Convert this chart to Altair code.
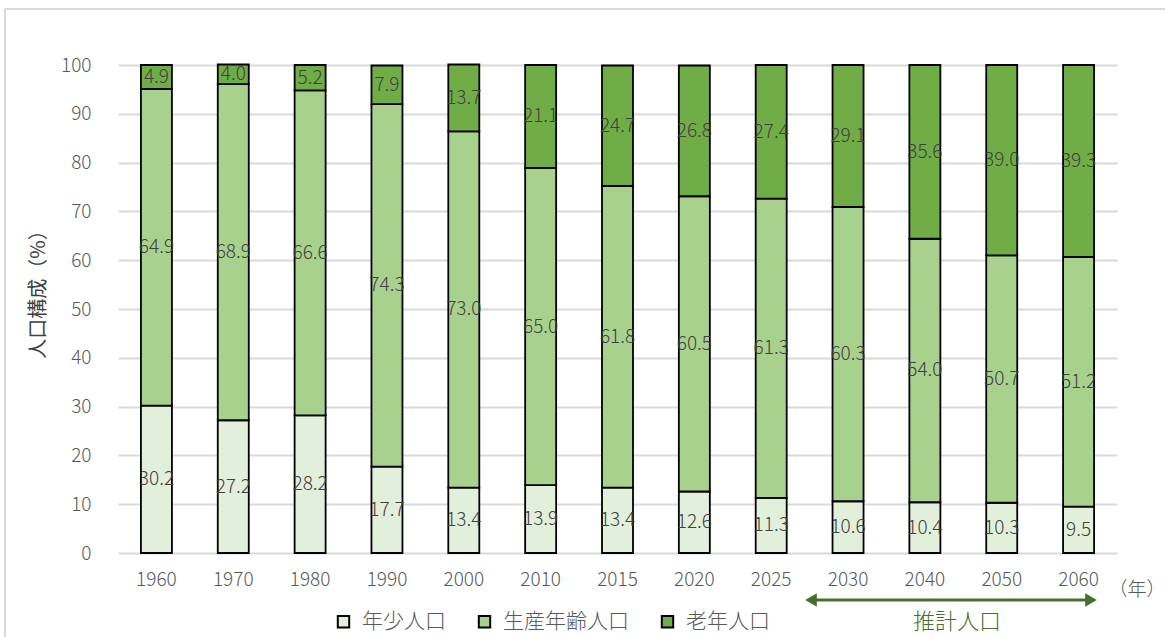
import altair as alt
import pandas as pd

# 年齢3区分別人口構成（%）
years = ["1960", "1970", "1980", "1990", "2000", "2010", "2015",
         "2020", "2025", "2030", "2040", "2050", "2060"]
youth = [30.2, 27.2, 28.2, 17.7, 13.4, 13.9, 13.4, 12.6, 11.3, 10.6, 10.4, 10.3, 9.5]
working = [64.9, 68.9, 66.6, 74.3, 73.0, 65.0, 61.8, 60.5, 61.3, 60.3, 54.0, 50.7, 51.2]
elderly = [4.9, 4.0, 5.2, 7.9, 13.7, 21.1, 24.7, 26.8, 27.4, 29.1, 35.6, 39.0, 39.3]

groups = ["年少人口", "生産年齢人口", "老年人口"]
colors = ["#e2efda", "#a9d18e", "#70ad47"]
y_ticks = list(range(0, 101, 10))

FONT = "Noto Sans CJK JP"
LIGHT = 300
AXIS_GRAY = "#595959"
ARROW_GREEN = "#456f2c"

rows = []
for i, yr in enumerate(years):
    for k, (g, vals) in enumerate(zip(groups, [youth, working, elderly])):
        rows.append({"year": yr, "group": g, "order": k, "value": vals[i]})
df = pd.DataFrame(rows)

W, H = 999, 488

x_enc = alt.X("year:N", sort=years,
              scale=alt.Scale(paddingInner=0, paddingOuter=0),
              axis=alt.Axis(title=None, labelAngle=0, labelPadding=17,
                            labelFontSize=19, labelColor=AXIS_GRAY, labelFont=FONT,
                            labelFontWeight=LIGHT,
                            ticks=False, domain=False, grid=False))

base = alt.Chart(df).transform_stack(
    stack="value", groupby=["year"], as_=["y0", "y1"],
    sort=[alt.SortField("order", order="ascending")]
).transform_calculate(mid="(datum.y0 + datum.y1) / 2")

bars = base.mark_bar(size=31, stroke="black", strokeWidth=1.8).encode(
    x=x_enc,
    y=alt.Y("y0:Q", scale=alt.Scale(domain=[0, 100], nice=False),
            axis=alt.Axis(values=y_ticks, title="人口構成（%）",
                          titleFont=FONT, titleFontSize=20, titleFontWeight="normal",
                          titleColor="#404040", titleAngle=-90,
                          titleX=-80, titleY=224, titleAlign="center",
                          titleBaseline="middle",
                          labelFontSize=19, labelColor=AXIS_GRAY, labelFont=FONT,
                          labelFontWeight=LIGHT,
                          labelPadding=27, ticks=False, domain=False,
                          gridColor="#d9d9d9", gridWidth=2)),
    y2="y1:Q",
    color=alt.Color("group:N", scale=alt.Scale(domain=groups, range=colors),
                    legend=alt.Legend(title=None, orient="none", direction="horizontal",
                                      legendX=215, legendY=546,
                                      symbolType="square", symbolSize=130,
                                      symbolStrokeColor="black", symbolStrokeWidth=2,
                                      labelFont=FONT, labelFontSize=21,
                                      labelFontWeight=LIGHT,
                                      labelColor=AXIS_GRAY, labelOffset=8,
                                      columnPadding=28)),
    order=alt.Order("order:Q"),
)

labels = base.mark_text(font=FONT, fontSize=19, fontWeight=LIGHT,
                        color="#404040").encode(
    x=alt.X("year:N", sort=years),
    y=alt.Y("mid:Q"),
    text=alt.Text("value:Q", format=".1f"),
)

one = alt.Data(values=[{}])

# 外枠
frame_top = alt.Chart(one).mark_rule(color="#d9d9d9", strokeWidth=2).encode(
    x=alt.value(-113), x2=alt.value(1060), y=alt.value(-56))
frame_left = alt.Chart(one).mark_rule(color="#d9d9d9", strokeWidth=2).encode(
    x=alt.value(-113), y=alt.value(-56), y2=alt.value(600))

# 年の単位
unit = alt.Chart(one).mark_text(font=FONT, fontSize=19, fontWeight=LIGHT,
                                color=AXIS_GRAY).encode(
    x=alt.value(1019), y=alt.value(525), text=alt.value("（年）"))

# 推計人口の矢印
arrow_line = alt.Chart(one).mark_rule(color=ARROW_GREEN, strokeWidth=3).encode(
    x=alt.value(694), x2=alt.value(972), y=alt.value(535))
arrow_left = alt.Chart(one).mark_point(shape="triangle-left", filled=True, size=180,
                                       color=ARROW_GREEN, opacity=1).encode(
    x=alt.value(693), y=alt.value(535))
arrow_right = alt.Chart(one).mark_point(shape="triangle-right", filled=True, size=180,
                                        color=ARROW_GREEN, opacity=1).encode(
    x=alt.value(973), y=alt.value(535))
arrow_text = alt.Chart(one).mark_text(font=FONT, fontSize=22, fontWeight=LIGHT,
                                      color=ARROW_GREEN).encode(
    x=alt.value(839), y=alt.value(557), text=alt.value("推計人口"))

chart = alt.layer(
    bars, labels, frame_top, frame_left, unit,
    arrow_line, arrow_left, arrow_right, arrow_text
).properties(
    width=W, height=H,
    autosize=alt.AutoSizeParams(type="none"),
    padding={"left": 118, "top": 65, "right": 48, "bottom": 84},
    background="white",
).configure_view(stroke=None)

chart.save("out.html", embed_options={"renderer": "svg", "actions": False})
